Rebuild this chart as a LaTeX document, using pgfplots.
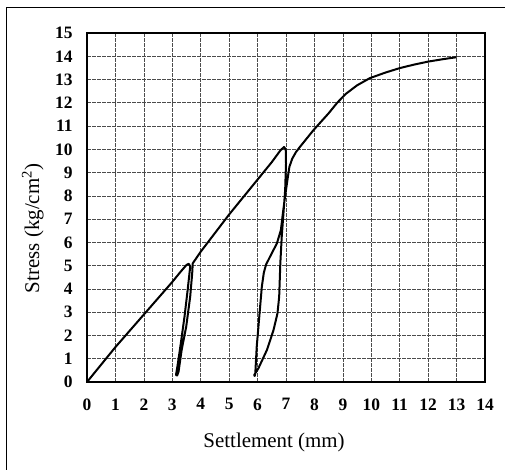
\documentclass[border=0pt]{standalone}
\usepackage{pgfplots}
\pgfplotsset{compat=1.18}
\usepackage{fontspec}
\setmainfont{Liberation Serif}

\begin{document}
\begin{tikzpicture}[x=1bp,y=1bp]
\useasboundingbox (0,0) rectangle (505,470);
% outer frame (left and top edges only visible)
\draw[line width=1bp] (6,0) -- (6,462) -- (505,462);
\begin{axis}[
	at={(87bp,88bp)}, anchor=south west,
	scale only axis, width=398bp, height=349bp,
	xmin=0, xmax=14, ymin=0, ymax=15,
	xtick={0,...,14}, ytick={0,...,15},
	major tick length=0pt,
	axis line style={line width=1.6bp},
	grid=major,
	major grid style={dash pattern=on 4bp off 1bp, gray!60!black, line width=0.7bp},
	/pgf/number format/assume math mode=true,
	ticklabel style={font=\bfseries\fontsize{17.5}{17.5}\selectfont},
	xticklabel style={yshift=-13bp},
	yticklabel style={xshift=-11bp},
	xlabel={Settlement (mm)},
	ylabel={Stress (kg/cm\textsuperscript{2})},
	label style={font=\fontsize{21}{21}\selectfont},
	xlabel style={at={(axis description cs:0.47,-0.172)}, anchor=center},
	ylabel style={at={(axis description cs:-0.136,0.44)}, anchor=center, rotate=0},
]
\addplot[black, line width=2bp, line join=round] coordinates {
	(0,0) (0.5,0.75) (1,1.5) (1.5,2.2) (2,2.9) (2.5,3.6) (3,4.3)
	(3.3,4.75) (3.5,5.03) (3.58,5.08) (3.63,4.96)
	(3.54,3.95) (3.43,2.81) (3.30,1.66) (3.18,0.66) (3.13,0.30) (3.17,0.28)
	(3.22,0.44) (3.33,1.38) (3.49,2.38) (3.63,3.67) (3.70,4.67) (3.72,5.10)
	(4,5.6) (4.5,6.4) (5,7.2) (5.5,7.95) (6,8.7) (6.5,9.45) (6.8,9.95)
	(6.93,10.1) (6.99,10.0) (7.0,9.4) (6.97,8.25) (6.91,7.25) (6.85,6.25)
	(6.80,5.10) (6.76,3.67) (6.70,2.95) (6.56,2.23) (6.33,1.38) (6.03,0.59)
	(5.88,0.30) (5.90,0.26) (5.92,0.37) (5.97,1.52) (6.06,2.81) (6.15,4.10)
	(6.22,4.7) (6.30,5.05) (6.44,5.39) (6.68,5.96) (6.82,6.53) (6.89,7.25)
	(6.97,8.0) (7.05,8.68) (7.12,9.25) (7.22,9.6) (7.35,9.88) (7.5,10.12)
	(7.97,10.83) (8.5,11.55) (8.8,12.0) (9.1,12.38) (9.5,12.75) (9.95,13.06)
	(10.5,13.3) (11.0,13.49) (11.5,13.64) (12.0,13.77) (12.5,13.87) (13.0,13.96)
};
\end{axis}
\end{tikzpicture}
\end{document}
